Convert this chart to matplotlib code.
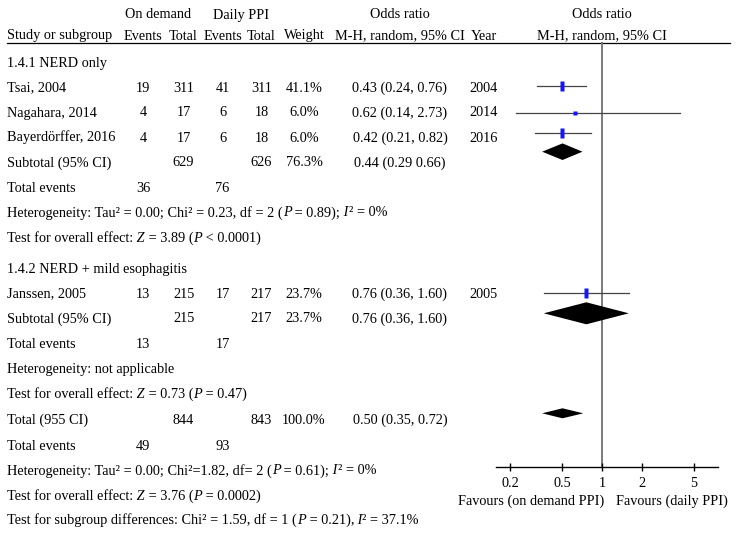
import matplotlib
matplotlib.use("Agg")
import matplotlib.pyplot as plt
import numpy as np

plt.rcParams['font.family'] = ['Liberation Serif', 'DejaVu Serif']

# ---------------- data ----------------
studies = ["Tsai, 2004", "Nagahara, 2014", "Bayerdörffer, 2016", "Janssen, 2005"]
ev_ondemand = [19, 4, 4, 13]
tot_ondemand = [311, 17, 17, 215]
ev_daily = [41, 6, 6, 17]
tot_daily = [311, 18, 18, 217]
weights = ["41.1%", "6.0%", "6.0%", "23.7%"]
or_text = ["0.43 (0.24, 0.76)", "0.62 (0.14, 2.73)", "0.42 (0.21, 0.82)", "0.76 (0.36, 1.60)"]
years = ["2004", "2014", "2016", "2005"]

# odds ratios as drawn in the picture (point, lower, upper)
study_or = [0.50, 0.62, 0.50, 0.76]
study_lo = [0.32, 0.22, 0.31, 0.36]
study_hi = [0.76, 3.93, 0.82, 1.60]

# subtotal / total diamonds as drawn (point, lower, upper)
diamond_or = [0.50, 0.76, 0.50]
diamond_lo = [0.35, 0.36, 0.35]
diamond_hi = [0.71, 1.60, 0.72]

sub1 = ["629", "626", "76.3%", "0.44 (0.29 0.66)"]
sub1_events = ["36", "76"]
sub2 = ["215", "217", "23.7%", "0.76 (0.36, 1.60)"]
sub2_events = ["13", "17"]
total = ["844", "843", "100.0%", "0.50 (0.35, 0.72)"]
total_events = ["49", "93"]

ticks = [0.2, 0.5, 1, 2, 5]
tick_labels = ["0.2", "0.5", "1", "2", "5"]

# ---------------- layout ----------------
W, H = 739, 533
fig = plt.figure(figsize=(W / 100, H / 100), dpi=100)
bg = fig.add_axes([0, 0, 1, 1])
bg.set_xlim(0, W)
bg.set_ylim(H, 0)
bg.axis('off')
renderer = fig.canvas.get_renderer()

FS = 10.3
DY = 4.5  # baseline offset from visual centre
cx = dict(ev1=143, t1=183.5, ev2=222.5, t2=261.5, w=304, orr=400, yr=483.5)

def txt(x, y, s, ha='center'):
    return bg.text(x, y + DY, s, ha=ha, va='baseline', fontsize=FS, color='black')

def rich(x, y, pieces):
    # pieces: list of (text, italic) drawn one after another
    for s, it in pieces:
        t = bg.text(x, y + DY, s, ha='left', va='baseline', fontsize=FS, color='black',
                    fontstyle='italic' if it else 'normal')
        x += t.get_window_extent(renderer=renderer).width * W / fig.bbox.width

# headers
txt(157.7, 14, "On demand")
txt(241.3, 14, "Daily PPI")
txt(cx['orr'], 14, "Odds ratio")
txt(602, 14, "Odds ratio")
txt(7, 35, "Study or subgroup", ha='left')
for k, s in [('ev1', "Events"), ('t1', "Total"), ('ev2', "Events"), ('t2', "Total"),
             ('w', "Weight"), ('orr', "M-H, random, 95% CI"), ('yr', "Year")]:
    txt(cx[k], 35, s)
txt(602, 35, "M-H, random, 95% CI")
bg.plot([7, 730], [42.5, 42.5], color='black', lw=0.9)

study_y = [87, 112, 137, 293]
for i, y in enumerate(study_y):
    txt(7, y, studies[i], ha='left')
    txt(cx['ev1'], y, str(ev_ondemand[i]))
    txt(cx['t1'], y, str(tot_ondemand[i]))
    txt(cx['ev2'], y, str(ev_daily[i]))
    txt(cx['t2'], y, str(tot_daily[i]))
    txt(cx['w'], y, weights[i])
    txt(cx['orr'], y, or_text[i])
    txt(cx['yr'], y, years[i])

def subtotal_row(y, label, vals):
    txt(7, y, label, ha='left')
    txt(cx['t1'], y, vals[0])
    txt(cx['t2'], y, vals[1])
    txt(cx['w'], y, vals[2])
    txt(cx['orr'], y, vals[3])

def events_row(y, vals):
    txt(7, y, "Total events", ha='left')
    txt(cx['ev1'], y, vals[0])
    txt(cx['ev2'], y, vals[1])

txt(7, 62, "1.4.1 NERD only", ha='left')
subtotal_row(162, "Subtotal (95% CI)", sub1)
events_row(187, sub1_events)
rich(7, 212, [("Heterogeneity: Tau² = 0.00; Chi² = 0.23, df = 2 (", False), ("P", True),
              (" = 0.89);", False), (" I", True), ("² = 0%", False)])
rich(7, 237, [("Test for overall effect:", False), (" Z", True), (" = 3.89 (", False),
              ("P", True), (" < 0.0001)", False)])

txt(7, 268, "1.4.2 NERD + mild esophagitis", ha='left')
subtotal_row(318, "Subtotal (95% CI)", sub2)
events_row(343, sub2_events)
txt(7, 368, "Heterogeneity: not applicable", ha='left')
rich(7, 393, [("Test for overall effect:", False), (" Z", True), (" = 0.73 (", False),
              ("P", True), (" = 0.47)", False)])

subtotal_row(419, "Total (955 CI)", total)
events_row(445, total_events)
rich(7, 470, [("Heterogeneity: Tau² = 0.00; Chi²=1.82, df= 2 (", False), ("P", True),
              (" = 0.61);", False), (" I", True), ("² = 0%", False)])
rich(7, 495, [("Test for overall effect:", False), (" Z", True), (" = 3.76 (", False),
              ("P", True), (" = 0.0002)", False)])
rich(7, 519, [("Test for subgroup differences: Chi² = 1.59, df = 1 (", False), ("P", True),
              (" = 0.21),", False), (" I", True), ("² = 37.1%", False)])

txt(604, 500.5, "Favours (on demand PPI)", ha='right')
txt(616, 500.5, "Favours (daily PPI)", ha='left')

# ---------------- forest axes ----------------
x0, x1 = 495.7, 718.3
ytop, ybot = 42.5, 467
ax = fig.add_axes([x0 / W, (H - ybot) / H, (x1 - x0) / W, (ybot - ytop) / H])
ax.set_xscale('log')
s = 57.0
ax.set_xlim(np.exp(-(602 - x0) / s), np.exp((x1 - 602) / s))
ax.set_ylim(ybot, ytop)
ax.patch.set_alpha(0)
for sp in ['top', 'left', 'right']:
    ax.spines[sp].set_visible(False)
ax.spines['bottom'].set_linewidth(1.0)
ax.set_yticks([])
ax.set_xticks(ticks)
ax.set_xticklabels(tick_labels)
ax.minorticks_off()
ax.tick_params(axis='x', direction='inout', length=6, width=1.0, labelsize=FS, pad=4)

ax.axvline(1, color='#707070', lw=1.3, zorder=1)

box_h = [7.5, 2.4, 7.8, 7.5]
box_marker = [(-0.2, -0.5), (0.2, -0.5), (0.2, 0.5), (-0.2, 0.5), (-0.2, -0.5)]
mark_y = [85.7, 112.7, 133.3, 293.3]
for i, y in enumerate(mark_y):
    ax.plot([study_lo[i], study_hi[i]], [y, y], color='#444444', lw=0.9, zorder=2)
    if i == 1:
        ax.plot([study_or[i]], [y], marker='s', ms=box_h[i], color='#1414ff', mec='none', zorder=3)
    else:
        ax.plot([study_or[i]], [y], marker=box_marker, ms=box_h[i], color='#1414ff', mec='none', zorder=3)

diamond_y = [151.7, 313.3, 413.3]
diamond_h = [8.3, 11, 5]
for i, y in enumerate(diamond_y):
    h = diamond_h[i]
    ax.fill([diamond_lo[i], diamond_or[i], diamond_hi[i], diamond_or[i]],
            [y, y - h, y, y + h], color='black', lw=0, zorder=3)

fig.savefig("out.png", dpi=100)
